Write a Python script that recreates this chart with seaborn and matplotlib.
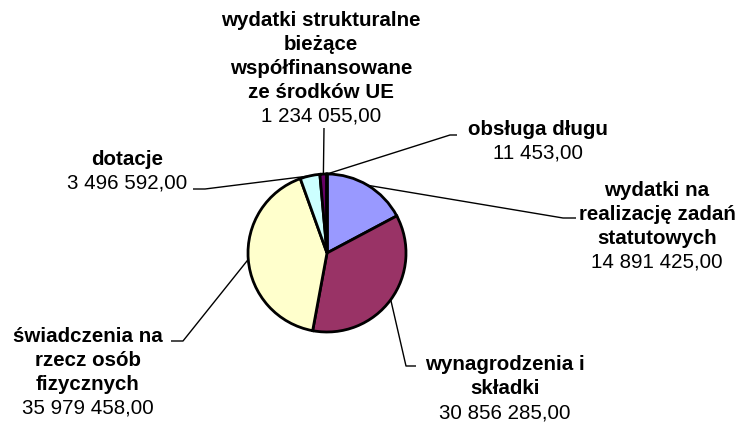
import numpy as np
import matplotlib.pyplot as plt
import seaborn as sns

# slices in drawing order (clockwise from 12 o'clock)
labels = [
    "wydatki na\nrealizację zadań\nstatutowych",
    "wynagrodzenia i\nskładki",
    "świadczenia na\nrzecz osób\nfizycznych",
    "dotacje",
    "wydatki strukturalne\nbieżące\nwspółfinansowane\nze środków UE",
    "obsługa długu",
]
values = [14891425.00, 30856285.00, 35979458.00, 3496592.00, 1234055.00, 11453.00]
value_text = ["14 891 425,00", "30 856 285,00", "35 979 458,00",
              "3 496 592,00", "1 234 055,00", "11 453,00"]
colors = ["#9999FF", "#993366", "#FFFFCC", "#CCFFFF", "#660066", "#FF8080"]

W, H = 745, 423
CX, CY, R = 327, 253, 79  # pie centre / radius in pixel coords (y down)

# label layout: text centre x, first line y, leader elbow, leader end (pixels)
label_pos = [
    (657, 190, (563, 218), (576, 218)),
    (505, 365, (406, 366), (416, 366)),
    (88, 336, (183, 341), (171, 341)),
    (127, 159, (205, 189), (193, 189)),
    (321, 20, (324, 128), (324, 128)),
    (538, 129, (450, 135), (457, 135)),
]
LINE = 24
FS = 14.8

sns.set_theme(style="white")
plt.rcParams["font.family"] = ["Liberation Sans", "DejaVu Sans"]

fig = plt.figure(figsize=(W / 100, H / 100), dpi=100)
ax = fig.add_axes([0, 0, 1, 1])

wedges, _ = ax.pie(values, colors=colors, startangle=90, counterclock=False,
                   center=(CX, H - CY), radius=R,
                   wedgeprops=dict(edgecolor="black", linewidth=2))
ax.set_xlim(0, W)
ax.set_ylim(0, H)
ax.set_aspect("equal")
ax.axis("off")

for w, lab, val, (tx, ty, elbow, end) in zip(wedges, labels, value_text, label_pos):
    mid = np.deg2rad((w.theta1 + w.theta2) / 2)
    ex = CX + R * np.cos(mid)
    ey = (H - CY) + R * np.sin(mid)
    ax.plot([ex, elbow[0], end[0]], [ey, H - elbow[1], H - end[1]],
            color="black", lw=1, solid_capstyle="butt")
    lines = lab.split("\n")
    for i, ln in enumerate(lines):
        ax.text(tx, H - (ty + i * LINE), ln, ha="center", va="center",
                fontsize=FS, fontweight="bold", color="black")
    ax.text(tx, H - (ty + len(lines) * LINE), val, ha="center", va="center",
            fontsize=FS, color="black")

fig.savefig("out.png", dpi=100, facecolor="white")
